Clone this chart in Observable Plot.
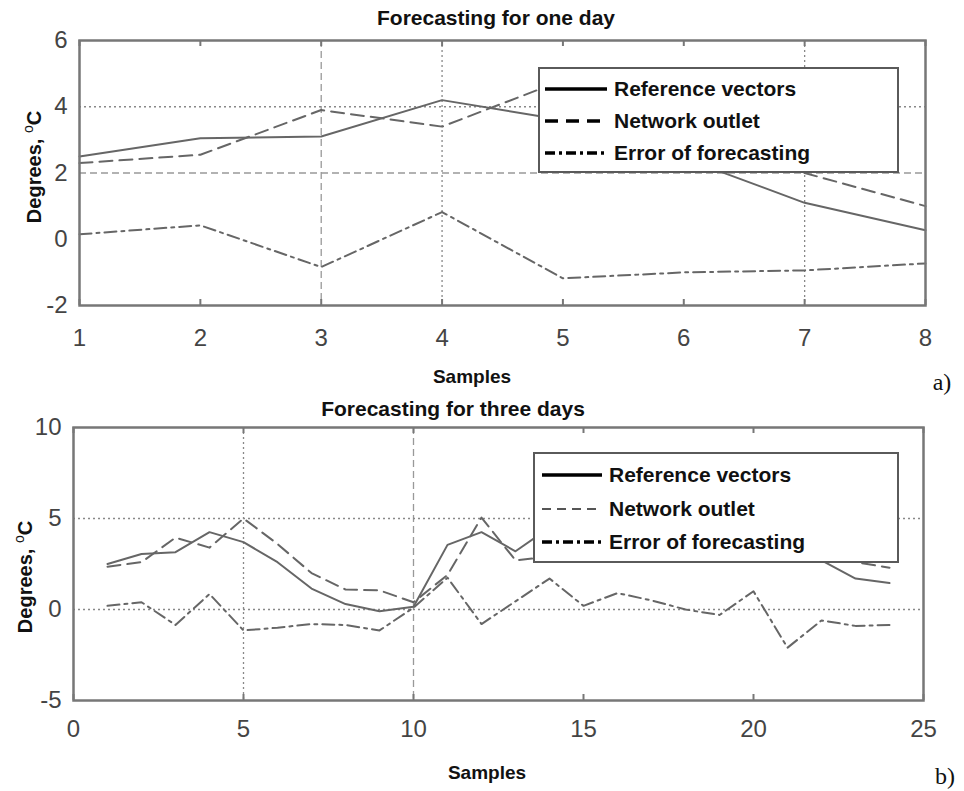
<!DOCTYPE html>
<html>
<head>
<meta charset="utf-8">
<script src="https://cdn.jsdelivr.net/npm/d3@7"></script>
<script src="https://cdn.jsdelivr.net/npm/@observablehq/plot@0.6"></script>
<style>
  body { margin: 0; background: #fff; }
  #root { position: relative; width: 964px; height: 791px; overflow: hidden; font-family: "Liberation Sans", Arial, sans-serif; }
  .abs { position: absolute; white-space: nowrap; }
  .title { font-weight: bold; font-size: 21px; color: #111; transform: translate(-50%, -50%); }
  .xlab { font-weight: bold; font-size: 19px; color: #111; transform: translate(-50%, -50%); }
  .ylab { font-weight: bold; font-size: 20px; color: #111; transform: translate(-50%, -50%) rotate(-90deg); }
  .ylab sup { font-size: 14px; font-weight: normal; }
  .tag { font-family: "Liberation Serif", "Times New Roman", serif; font-size: 24px; color: #111; transform: translate(-50%, -50%); }
  .legend { border: 2.5px solid #5a5a5a; background: #fff; box-sizing: border-box; }
  .legend .row { position: absolute; left: 0; height: 30px; display: flex; align-items: center; }
  .legend .row span { font-weight: bold; font-size: 21px; color: #111; }
  .legend svg { display: block; }
</style>
</head>
<body>
<div id="root"></div>
<script>
// ---- Data: one-day forecast ----
const samplesA = [1, 2, 3, 4, 5, 6, 7, 8];
const referenceA = [2.5, 3.05, 3.1, 4.2, 3.6, 2.45, 1.1, 0.27];
const networkA = [2.3, 2.55, 3.9, 3.4, 4.8, 3.45, 2.0, 1.0];
const errorA = [0.15, 0.42, -0.84, 0.82, -1.18, -1.0, -0.94, -0.73];
const xTicksA = [1, 2, 3, 4, 5, 6, 7, 8];
const yTicksA = [-2, 0, 2, 4, 6];

// ---- Data: three-day forecast ----
const samplesB = [1, 2, 3, 4, 5, 6, 7, 8, 9, 10, 11, 12, 13, 14, 15, 16, 17, 18, 19, 20, 21, 22, 23, 24];
const referenceB = [2.5, 3.05, 3.15, 4.25, 3.7, 2.6, 1.15, 0.3, -0.1, 0.15, 3.55, 4.25, 3.2, 4.5, 4.0, 3.7, 3.4, 3.5, 3.6, 4.2, 3.5, 2.7, 1.7, 1.45];
const networkB = [2.35, 2.6, 3.95, 3.4, 5.0, 3.6, 2.0, 1.1, 1.05, 0.4, 1.9, 5.05, 2.7, 2.9, 3.8, 2.8, 2.9, 3.5, 3.9, 3.2, 5.6, 3.3, 2.6, 2.3];
const errorB = [0.2, 0.4, -0.85, 0.85, -1.15, -1.0, -0.8, -0.85, -1.15, 0.1, 1.75, -0.8, 0.45, 1.7, 0.2, 0.9, 0.5, 0.0, -0.3, 1.0, -2.1, -0.6, -0.9, -0.85];
const xTicksB = [0, 5, 10, 15, 20, 25];
const yTicksB = [-5, 0, 5, 10];

const seriesNames = ["Reference vectors", "Network outlet", "Error of forecasting"];

const root = document.getElementById("root");

function makeChart(o) {
  const rows = o.xs.map((x, i) => ({x, ref: o.ref[i], net: o.net[i], err: o.err[i]}));
  const plotH = o.height - o.mt - o.mb;
  const lineColor = "#666";
  const fontFamily = '"Liberation Sans", Arial, sans-serif';
  const svg = Plot.plot({
    width: o.width, height: o.height,
    marginLeft: o.ml, marginRight: o.mr, marginTop: o.mt, marginBottom: o.mb,
    x: {domain: o.xDomain, ticks: o.xTicks},
    y: {domain: o.yDomain, ticks: o.yTicks},
    style: {background: "transparent", fontFamily, overflow: "visible"},
    marks: [
      Plot.ruleX(o.gridXDotted, {stroke: "#888", strokeWidth: 1.3, strokeDasharray: "2,3"}),
      Plot.ruleX(o.gridXDashed, {stroke: "#999", strokeWidth: 1.3, strokeDasharray: "7,4"}),
      Plot.ruleY(o.gridYDotted, {stroke: "#888", strokeWidth: 1.3, strokeDasharray: "2,3"}),
      Plot.ruleY(o.gridYDashed, {stroke: "#999", strokeWidth: 1.3, strokeDasharray: "7,4"}),
      Plot.ruleX(o.xTicks, {stroke: "#777", strokeWidth: 2, insetBottom: plotH - 6}),
      Plot.ruleX(o.xTicks, {stroke: "#777", strokeWidth: 2, insetTop: plotH - 6}),
      Plot.lineY(rows, {x: "x", y: "err", stroke: lineColor, strokeWidth: 2, strokeDasharray: "12,5,3,5"}),
      Plot.lineY(rows, {x: "x", y: "net", stroke: lineColor, strokeWidth: 2, strokeDasharray: "13,7"}),
      Plot.lineY(rows, {x: "x", y: "ref", stroke: lineColor, strokeWidth: 2}),
      Plot.frame({stroke: "#777", strokeWidth: 2.5}),
      Plot.axisX({ticks: o.xTicks, tickSize: 0, tickPadding: o.xPad, fontSize: 24, fill: "#444", label: null, tickFormat: d => String(d)}),
      Plot.axisY({ticks: o.yTicks, tickSize: 0, tickPadding: 12, fontSize: 24, fill: "#444", label: null, tickFormat: d => String(d)})
    ]
  });
  svg.style.position = "absolute";
  svg.style.left = "0px";
  svg.style.top = o.top + "px";
  root.appendChild(svg);
}

function addText(cls, html, x, y) {
  const d = document.createElement("div");
  d.className = "abs " + cls;
  d.innerHTML = html;
  d.style.left = x + "px";
  d.style.top = y + "px";
  root.appendChild(d);
  return d;
}

function addLegend(o) {
  const box = document.createElement("div");
  box.className = "abs legend";
  box.style.left = o.left + "px";
  box.style.top = o.top + "px";
  box.style.width = o.width + "px";
  box.style.height = o.height + "px";
  o.styles.forEach((st, i) => {
    const row = document.createElement("div");
    row.className = "row";
    row.style.top = (o.rowY[i] - 15) + "px";
    const ns = "http://www.w3.org/2000/svg";
    const s = document.createElementNS(ns, "svg");
    s.setAttribute("width", o.sampleW + 6);
    s.setAttribute("height", 10);
    s.style.marginLeft = o.sampleX + "px";
    const l = document.createElementNS(ns, "line");
    l.setAttribute("x1", 0); l.setAttribute("x2", o.sampleW);
    l.setAttribute("y1", 5); l.setAttribute("y2", 5);
    l.setAttribute("stroke", st.color);
    l.setAttribute("stroke-width", st.width);
    if (st.dash) l.setAttribute("stroke-dasharray", st.dash);
    s.appendChild(l);
    row.appendChild(s);
    const t = document.createElement("span");
    t.textContent = seriesNames[i];
    t.style.marginLeft = "1px";
    row.appendChild(t);
    box.appendChild(row);
  });
  root.appendChild(box);
}

// ---- Chart a) ----
makeChart({
  top: 0, width: 964, height: 360, ml: 79, mr: 39, mt: 40, mb: 55, xPad: 23,
  xs: samplesA, ref: referenceA, net: networkA, err: errorA,
  xDomain: [1, 8], yDomain: [-2, 6], xTicks: xTicksA, yTicks: yTicksA,
  gridXDotted: [4, 7], gridXDashed: [3], gridYDotted: [4], gridYDashed: [2]
});
addText("title", "Forecasting for one day", 496, 18);
addText("xlab", "Samples", 472, 377);
addText("ylab", "Degrees, <sup>o</sup>C", 33, 167);
addText("tag", "a)", 942, 382);
addLegend({
  left: 538, top: 67, width: 361, height: 106, rowY: [20, 52, 84], sampleX: 5, sampleW: 62,
  styles: [
    {color: "#000", width: 3.5, dash: null},
    {color: "#000", width: 3.5, dash: "13,8"},
    {color: "#000", width: 3.5, dash: "10,4,3,4"}
  ]
});

// ---- Chart b) ----
makeChart({
  top: 390, width: 964, height: 350, ml: 73, mr: 41, mt: 37, mb: 40, xPad: 19,
  xs: samplesB, ref: referenceB, net: networkB, err: errorB,
  xDomain: [0, 25], yDomain: [-5, 10], xTicks: xTicksB, yTicks: yTicksB,
  gridXDotted: [5], gridXDashed: [10], gridYDotted: [5, 0], gridYDashed: []
});
addText("title", "Forecasting for three days", 453, 409);
addText("xlab", "Samples", 487, 773);
addText("ylab", "Degrees, <sup>o</sup>C", 24, 577);
addText("tag", "b)", 945, 776);
addLegend({
  left: 533, top: 452, width: 366, height: 111, rowY: [21, 55, 88], sampleX: 7, sampleW: 60,
  styles: [
    {color: "#000", width: 3.5, dash: null},
    {color: "#555", width: 2, dash: "9,6"},
    {color: "#000", width: 3.5, dash: "10,4,3,4"}
  ]
});
</script>
</body>
</html>
